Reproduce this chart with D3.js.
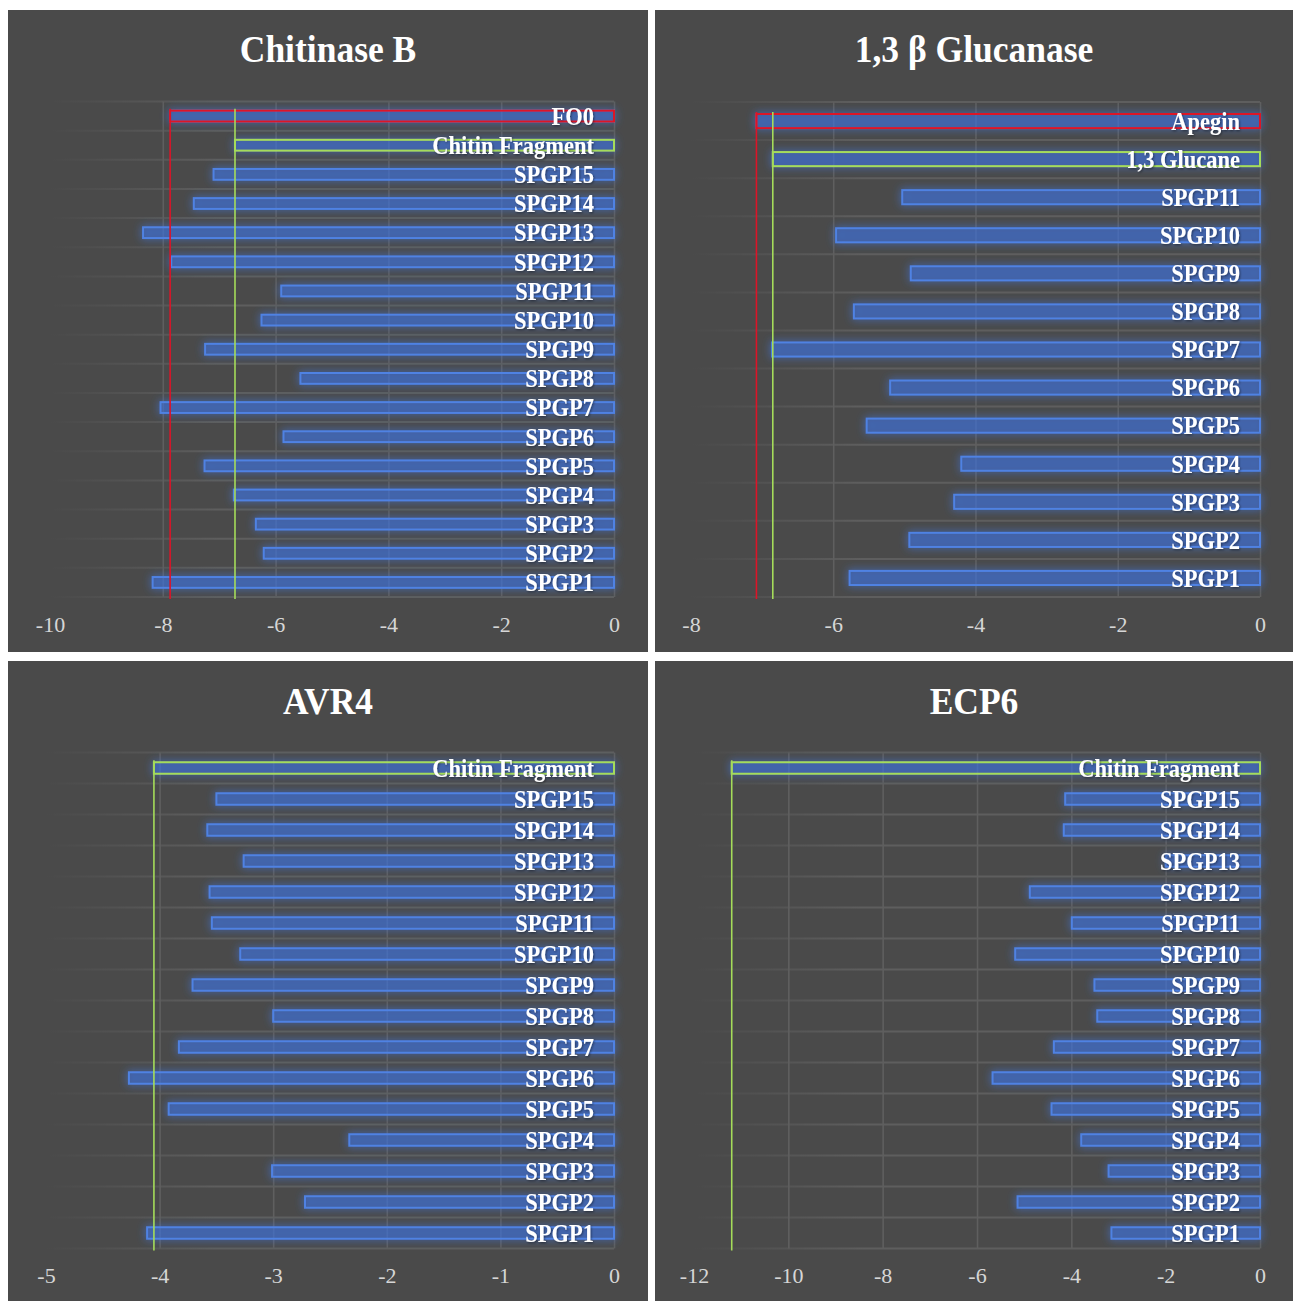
<!DOCTYPE html>
<html>
<head>
<meta charset="utf-8">
<script src="https://cdn.jsdelivr.net/npm/d3@7"></script>
<style>
  body { margin: 0; background: #ffffff; }
  svg { display: block; }
</style>
</head>
<body>
<svg id="chart" width="1293" height="1301"></svg>
<script>
// ---- Docking scores (kcal/mol) ----

// Chitinase B
const chitinaseCategories = ["FO0", "Chitin Fragment", "SPGP15", "SPGP14", "SPGP13", "SPGP12", "SPGP11", "SPGP10",
  "SPGP9", "SPGP8", "SPGP7", "SPGP6", "SPGP5", "SPGP4", "SPGP3", "SPGP2", "SPGP1"];
const chitinaseValues = [-7.87, -6.72, -7.1, -7.45, -8.35, -7.85, -5.9, -6.25,
  -7.25, -5.56, -8.04, -5.86, -7.26, -6.74, -6.35, -6.21, -8.18];
const chitinaseTicks = [-10, -8, -6, -4, -2, 0];

// 1,3 beta Glucanase
const glucanaseCategories = ["Apegin", "1,3 Glucane", "SPGP11", "SPGP10", "SPGP9", "SPGP8", "SPGP7",
  "SPGP6", "SPGP5", "SPGP4", "SPGP3", "SPGP2", "SPGP1"];
const glucanaseValues = [-7.08, -6.85, -5.03, -5.96, -4.91, -5.71, -6.86,
  -5.2, -5.53, -4.2, -4.3, -4.93, -5.77];
const glucanaseTicks = [-8, -6, -4, -2, 0];

// AVR4
const avr4Categories = ["Chitin Fragment", "SPGP15", "SPGP14", "SPGP13", "SPGP12", "SPGP11", "SPGP10",
  "SPGP9", "SPGP8", "SPGP7", "SPGP6", "SPGP5", "SPGP4", "SPGP3", "SPGP2", "SPGP1"];
const avr4Values = [-4.05, -3.5, -3.58, -3.26, -3.56, -3.54, -3.29,
  -3.71, -3.0, -3.83, -4.27, -3.92, -2.33, -3.01, -2.72, -4.11];
const avr4Ticks = [-5, -4, -3, -2, -1, 0];

// ECP6
const ecp6Categories = ["Chitin Fragment", "SPGP15", "SPGP14", "SPGP13", "SPGP12", "SPGP11", "SPGP10",
  "SPGP9", "SPGP8", "SPGP7", "SPGP6", "SPGP5", "SPGP4", "SPGP3", "SPGP2", "SPGP1"];
const ecp6Values = [-11.2, -4.13, -4.16, -2.0, -4.88, -3.99, -5.19,
  -3.51, -3.45, -4.37, -5.67, -4.42, -3.79, -3.21, -5.14, -3.15];
const ecp6Ticks = [-12, -10, -8, -6, -4, -2, 0];

// Reference compound per chart: index of the control (red) and native ligand (green)
const panels = [
  { title: "Chitinase B", categories: chitinaseCategories, values: chitinaseValues, ticks: chitinaseTicks,
    redIndex: 0, greenIndex: 1,
    box: [8, 10, 640, 642], xRange: [50, 614], yRange: [101.5, 597], titleY: 62 },
  { title: "1,3 \u03b2 Glucanase", categories: glucanaseCategories, values: glucanaseValues, ticks: glucanaseTicks,
    redIndex: 0, greenIndex: 1,
    box: [655, 10, 638, 642], xRange: [691, 1260], yRange: [102, 597], titleY: 62 },
  { title: "AVR4", categories: avr4Categories, values: avr4Values, ticks: avr4Ticks,
    redIndex: -1, greenIndex: 0,
    box: [8, 661, 640, 640], xRange: [46, 614], yRange: [752.5, 1248.5], titleY: 714 },
  { title: "ECP6", categories: ecp6Categories, values: ecp6Values, ticks: ecp6Ticks,
    redIndex: -1, greenIndex: 0,
    box: [655, 661, 638, 640], xRange: [694, 1260], yRange: [752.5, 1248.5], titleY: 714 }
];

const serif = "'Liberation Serif', 'Times New Roman', Times, serif";
const BLUE = "#4f82e3", RED = "#dc1428", GREEN = "#a5dc5a";
const BAR_FILL = "rgba(60, 110, 215, 0.4)";

const svg = d3.select("#chart");
const defs = svg.append("defs");

// soft blue halo around every bar
const glow = defs.append("filter").attr("id", "glow")
  .attr("x", "-20%").attr("y", "-200%").attr("width", "140%").attr("height", "500%");
glow.append("feGaussianBlur").attr("in", "SourceAlpha").attr("stdDeviation", 4).attr("result", "blur");
glow.append("feFlood").attr("flood-color", "#3f78ea").attr("flood-opacity", 0.95);
glow.append("feComposite").attr("in2", "blur").attr("operator", "in").attr("result", "halo");
const merge = glow.append("feMerge");
merge.append("feMergeNode").attr("in", "halo");
merge.append("feMergeNode").attr("in", "SourceGraphic");

// subtle shadow under the white labels
const shadow = defs.append("filter").attr("id", "txtshadow")
  .attr("x", "-10%").attr("y", "-30%").attr("width", "120%").attr("height", "160%");
shadow.append("feDropShadow").attr("dx", 1).attr("dy", 1).attr("stdDeviation", 1)
  .attr("flood-color", "#000").attr("flood-opacity", 0.45);

panels.forEach((p, pi) => {
  const [bx, by, bw, bh] = p.box;
  const g = svg.append("g");

  g.append("rect").attr("x", bx).attr("y", by).attr("width", bw).attr("height", bh)
    .attr("fill", "#4a4a4a");

  const x = d3.scaleLinear().domain([p.ticks[0], 0]).range(p.xRange);
  const y = d3.scaleBand().domain(p.categories).range(p.yRange).padding(0);
  const plotH = p.yRange[1] - p.yRange[0];

  // horizontal row separators, fading out to the left
  const gradId = "fade" + pi;
  const grad = defs.append("linearGradient").attr("id", gradId)
    .attr("gradientUnits", "userSpaceOnUse")
    .attr("x1", p.xRange[0]).attr("x2", p.xRange[1]).attr("y1", 0).attr("y2", 0);
  grad.append("stop").attr("offset", 0).attr("stop-color", "#5e5e5e").attr("stop-opacity", 0);
  grad.append("stop").attr("offset", 0.3).attr("stop-color", "#5e5e5e").attr("stop-opacity", 1);
  grad.append("stop").attr("offset", 1).attr("stop-color", "#5e5e5e").attr("stop-opacity", 1);

  const edges = p.categories.map(c => y(c)).concat([p.yRange[1]]);
  g.append("g").selectAll("line").data(edges).join("line")
    .attr("x1", p.xRange[0]).attr("x2", p.xRange[1])
    .attr("y1", d => d).attr("y2", d => d)
    .attr("stroke", `url(#${gradId})`).attr("stroke-width", 2);

  // vertical gridlines
  const grid = g.append("g").attr("transform", `translate(0,${p.yRange[1]})`)
    .call(d3.axisBottom(x).tickValues(p.ticks.slice(1)).tickSize(-plotH).tickFormat(""));
  grid.select(".domain").remove();
  grid.selectAll("line").attr("stroke", "#5f5f5f").attr("stroke-width", 1.6);

  // tick labels
  const axis = g.append("g").attr("transform", `translate(0,${p.yRange[1]})`)
    .call(d3.axisBottom(x).tickValues(p.ticks).tickSize(0).tickPadding(19).tickFormat(d => String(d)));
  axis.select(".domain").remove();
  axis.selectAll("text").attr("fill", "#d6d6d6").attr("font-family", serif).attr("font-size", 22);

  const bh2 = y.bandwidth() * 0.37;
  const colorOf = i => i === p.redIndex ? RED : (i === p.greenIndex ? GREEN : BLUE);

  // bars
  g.append("g").selectAll("rect").data(p.values).join("rect")
    .attr("x", d => x(d))
    .attr("width", d => x(0) - x(d))
    .attr("y", (d, i) => y(p.categories[i]) + (y.bandwidth() - bh2) / 2)
    .attr("height", bh2)
    .attr("fill", BAR_FILL)
    .attr("stroke", (d, i) => colorOf(i))
    .attr("stroke-width", 2)
    .attr("filter", "url(#glow)");

  // reference lines at the control / native ligand scores
  const firstTop = y(p.categories[0]) + (y.bandwidth() - bh2) / 2;
  [[p.redIndex, RED], [p.greenIndex, GREEN]].forEach(([idx, col]) => {
    if (idx < 0) return;
    const xv = x(p.values[idx]);
    g.append("line").attr("x1", xv).attr("x2", xv)
      .attr("y1", firstTop - 2).attr("y2", p.yRange[1] + 2)
      .attr("stroke", col).attr("stroke-width", 1.6);
  });

  // category labels inside the bars (tall, narrow serif look)
  g.append("g").selectAll("text").data(p.categories).join("text")
    .attr("transform", d => `translate(${x(0) - 20},${y(d) + y.bandwidth() / 2}) scale(1,1.12)`)
    .attr("dy", "0.35em")
    .attr("text-anchor", "end")
    .attr("font-family", serif).attr("font-weight", "bold").attr("font-size", 22.5)
    .attr("fill", "#ffffff")
    .attr("filter", "url(#txtshadow)")
    .text(d => d);

  // chart title
  g.append("text")
    .attr("transform", `translate(${bx + bw / 2},${p.titleY}) scale(1,1.08)`)
    .attr("text-anchor", "middle")
    .attr("font-family", serif).attr("font-weight", "bold").attr("font-size", 35.5)
    .attr("fill", "#ffffff")
    .text(p.title);
});
</script>
</body>
</html>
